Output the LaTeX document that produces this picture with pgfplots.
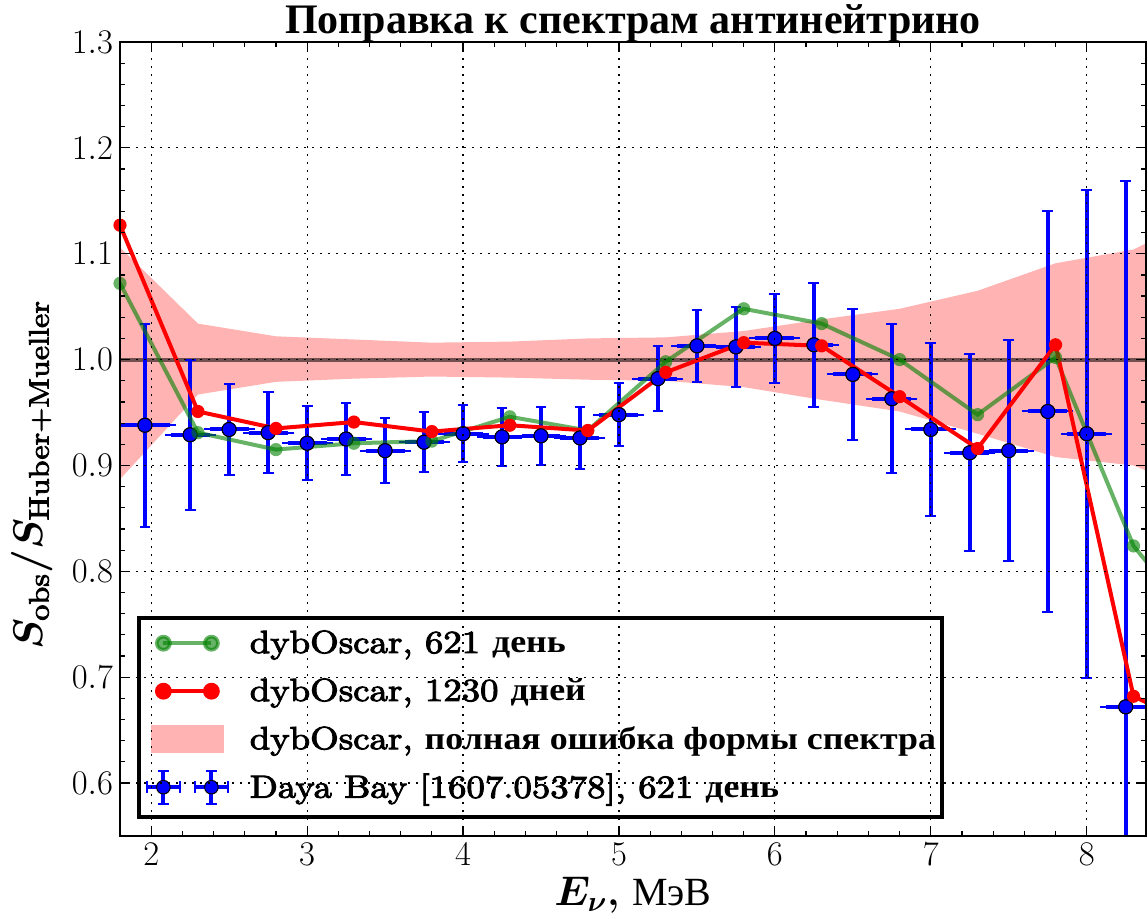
\documentclass[border=0pt]{standalone}
\usepackage[no-math]{fontspec}
\usepackage{bm}
\usepackage{pgfplots}
\usepgfplotslibrary{fillbetween}
\pgfplotsset{compat=1.18}
\newfontfamily\cyr{Liberation Serif}
\newfontfamily\cyrl{Liberation Serif}[FakeStretch=1.12]
\newfontfamily\lmfb{lmroman10-regular.otf}[BoldFont=lmroman10-regular.otf, FakeBold=3, FakeStretch=1.15]
\definecolor{mplgreen}{rgb}{0,0.5,0}
\definecolor{bandpink}{HTML}{FFB3B3}

% dybOscar shape error band
\pgfplotstableread{
x    lo     hi
1.8  0.887  1.106
2.3  0.967  1.034
2.8  0.979  1.022
3.3  0.982  1.019
3.8  0.984  1.016
4.3  0.983  1.017
4.8  0.981  1.020
5.3  0.980  1.021
5.8  0.974  1.027
6.3  0.962  1.038
6.8  0.951  1.048
7.3  0.930  1.065
7.8  0.908  1.091
8.3  0.900  1.104
8.8  0.870  1.140
}\tabband

% dybOscar 621 days
\pgfplotstableread{
x    y
1.8  1.072
2.3  0.931
2.8  0.915
3.3  0.921
3.8  0.923
4.3  0.946
4.8  0.933
5.3  0.998
5.8  1.048
6.3  1.034
6.8  1.000
7.3  0.948
7.8  1.002
8.3  0.824
8.8  0.734
}\tabgreen

% dybOscar 1230 days
\pgfplotstableread{
x    y
1.8  1.127
2.3  0.951
2.8  0.935
3.3  0.941
3.8  0.932
4.3  0.938
4.8  0.933
5.3  0.988
5.8  1.016
6.3  1.013
6.8  0.965
7.3  0.916
7.8  1.014
8.3  0.682
8.8  0.647
}\tabred

% Daya Bay 1607.05378
\pgfplotstableread{
x     y      ex     ey
1.96  0.938  0.16   0.096
2.25  0.929  0.125  0.071
2.50  0.934  0.125  0.043
2.75  0.931  0.125  0.0385
3.00  0.921  0.125  0.035
3.25  0.925  0.125  0.034
3.50  0.914  0.125  0.031
3.75  0.922  0.125  0.0285
4.00  0.930  0.125  0.027
4.25  0.927  0.125  0.0275
4.50  0.928  0.125  0.0277
4.75  0.926  0.125  0.0296
5.00  0.948  0.125  0.0297
5.25  0.982  0.125  0.031
5.50  1.013  0.125  0.034
5.75  1.012  0.125  0.038
6.00  1.020  0.125  0.042
6.25  1.014  0.125  0.0587
6.50  0.986  0.125  0.062
6.75  0.963  0.125  0.0705
7.00  0.934  0.125  0.0815
7.25  0.912  0.125  0.093
7.50  0.914  0.125  0.1045
7.75  0.951  0.125  0.189
8.00  0.930  0.125  0.2305
8.25  0.672  0.125  0.497
}\tabdyb

\newcommand{\lgframe}[2]{\path[draw=none, fill=none] (-9.3pt,#1) rectangle (43.2pt,#2);}
\newcommand{\sub}[1]{\mbox{\fontsize{14}{14}\selectfont\lmfb #1}}

\begin{document}
\begin{tikzpicture}
\begin{axis}[
  scale only axis, width=513pt, height=397pt,
  xmin=1.8, xmax=8.38, ymin=0.55, ymax=1.3,
  xtick={2,3,4,5,6,7,8},
  ytick={0.6,0.7,0.8,0.9,1.0,1.1,1.2,1.3},
  minor x tick num=4, minor y tick num=4,
  tick align=inside,
  major tick length=5pt, minor tick length=2.5pt,
  every tick/.style={black, line width=0.6pt},
  axis line style={line width=1.2pt},
  grid=major,
  major grid style={black, line width=0.6pt, dash pattern=on 1pt off 3pt},
  axis on top,
  yticklabel style={/pgf/number format/.cd, fixed, fixed zerofill, precision=1},
  tick label style={font=\fontsize{17.6}{20}\selectfont},
  every axis title/.style={at={(axis description cs:0.5,1)}, anchor=base, yshift=4.5pt,
    font=\fontsize{21}{24}\selectfont},
  title={\cyr\bfseries Поправка к спектрам антинейтрино},
  xlabel={$\bm{E_{\nu}}$\textbf{,} {\cyr МэВ}},
  xlabel style={font=\fontsize{20}{22}\selectfont, at={(axis description cs:0.5,-0.0869)}, anchor=base},
  ylabel={$\bm{S}_{\sub{obs}}\bm{/}\bm{S}_{\sub{Huber+Mueller}}$},
  ylabel style={font=\fontsize{20}{22}\selectfont, at={(axis description cs:-0.0858,0.455)}, anchor=center},
  legend cell align=left,
  legend style={at={(axis description cs:0,0)}, anchor=south west, xshift=8.5pt, yshift=8.5pt,
    draw=black, line width=1.8pt, inner xsep=3pt, inner ysep=0pt, row sep=0pt,
    font=\fontsize{16}{18}\selectfont\bfseries,
    nodes={inner sep=0pt}},
]
% band
\addplot[name path=up, draw=none, forget plot] table[x=x, y=hi] {\tabband};
\addplot[name path=lo, draw=none, forget plot] table[x=x, y=lo] {\tabband};
\addplot[bandpink, draw=none, forget plot] fill between[of=up and lo];
% unity line
\addplot[black, opacity=0.55, line width=2pt, forget plot] coordinates {(1.7,1) (8.9,1)};
% Daya Bay: x errors
\addplot[only marks, mark=*, mark size=3.5pt,
  mark options={fill=blue, draw=black, line width=0.5pt}, forget plot,
  error bars/.cd, x dir=both, x explicit,
  error bar style={blue, line width=2pt},
  error mark options={blue, line width=1pt, mark size=3pt}]
  table[x=x, y=y, x error=ex] {\tabdyb};
% Daya Bay: y errors
\addplot[only marks, mark=*, mark size=3.5pt,
  mark options={fill=blue, draw=black, line width=0.5pt}, forget plot,
  error bars/.cd, y dir=both, y explicit,
  error bar style={blue, line width=2pt},
  error mark options={blue, line width=1pt, mark size=2.7pt, rotate=90}]
  table[x=x, y=y, y error=ey] {\tabdyb};
% 621 days
\addplot[mplgreen, opacity=0.6, line width=2pt, mark=*, mark size=3.3pt,
  mark options={fill=mplgreen, draw opacity=0}, forget plot] table[x=x, y=y] {\tabgreen};
% 1230 days
\addplot[red, line width=2pt, line join=round, mark=*, mark size=3.3pt,
  mark options={fill=red, draw opacity=0}, forget plot] table[x=x, y=y] {\tabred};

\addlegendimage{legend image code/.code={\lgframe{-12pt}{12.5pt}
  \draw[mplgreen, opacity=0.6, line width=2pt] (0pt,0pt) -- (24pt,0pt);
  \fill[mplgreen, opacity=0.6] (0pt,0pt) circle (3.3pt) (24pt,0pt) circle (3.3pt);}}
\addlegendentry{{\lmfb dybOscar, 621} {\cyrl день}}
\addlegendimage{legend image code/.code={\lgframe{-12pt}{12pt}
  \draw[red, line width=2pt] (0pt,0pt) -- (24pt,0pt);
  \fill[red] (0pt,0pt) circle (3.3pt) (24pt,0pt) circle (3.3pt);}}
\addlegendentry{{\lmfb dybOscar, 1230} {\cyrl дней}}
\addlegendimage{legend image code/.code={\lgframe{-12pt}{12pt}
  \fill[bandpink] (-5.3pt,-6.2pt) rectangle (29.2pt,6.2pt);}}
\addlegendentry{{\lmfb dybOscar,} {\cyrl полная ошибка формы спектра}}
\addlegendimage{legend image code/.code={\lgframe{-15pt}{12pt}
  \draw[blue, line width=2pt] (-8.3pt,0pt) -- (8.3pt,0pt) (0pt,-8.3pt) -- (0pt,8.3pt)
     (15.7pt,0pt) -- (32.3pt,0pt) (24pt,-8.3pt) -- (24pt,8.3pt);
  \draw[blue, line width=1pt] (-8.3pt,-3pt) -- (-8.3pt,3pt) (8.3pt,-3pt) -- (8.3pt,3pt)
     (-2.6pt,8.3pt) -- (2.6pt,8.3pt) (-2.6pt,-8.3pt) -- (2.6pt,-8.3pt)
     (15.7pt,-3pt) -- (15.7pt,3pt) (32.3pt,-3pt) -- (32.3pt,3pt)
     (21.4pt,8.3pt) -- (26.6pt,8.3pt) (21.4pt,-8.3pt) -- (26.6pt,-8.3pt);
  \filldraw[fill=blue, draw=black, line width=0.5pt] (0pt,0pt) circle (3.4pt) (24pt,0pt) circle (3.4pt);}}
\addlegendentry{{\lmfb Daya Bay [1607.05378], 621} {\cyrl день}}
\end{axis}
\pgfresetboundingbox
\path (-60pt,-41pt) rectangle (514pt,418pt);
\end{tikzpicture}
\end{document}
